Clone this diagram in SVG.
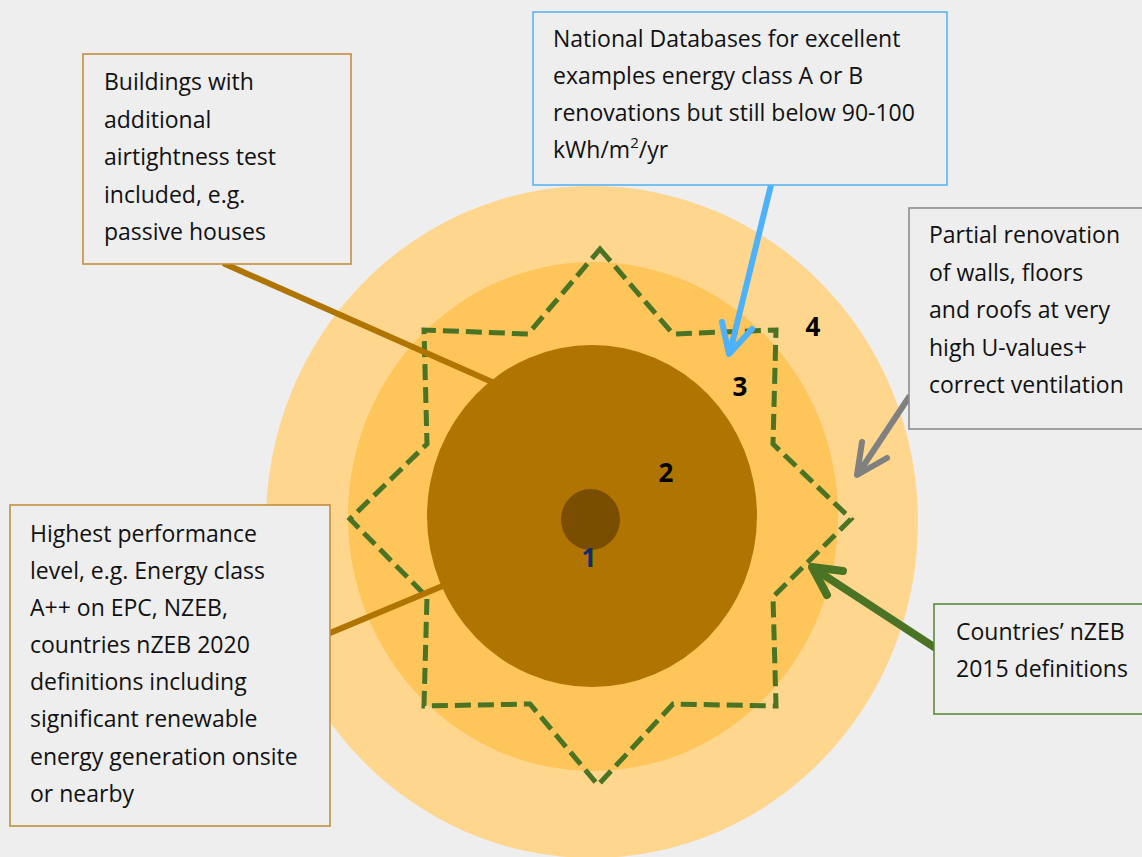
<svg xmlns="http://www.w3.org/2000/svg" width="1142" height="857" viewBox="0 0 1142 857">
<style>
.t{font-family:"Open Sans","Noto Sans","Liberation Sans",sans-serif;font-size:23px;fill:#111111}
.n{font-family:"Open Sans","Noto Sans","Liberation Sans",sans-serif;font-size:26px;font-weight:bold;fill:#000000;text-anchor:middle}
.box{fill:#eeeeee;stroke-width:1.6}
.lead{fill:none;stroke-linecap:round;stroke-linejoin:round}
</style>
<rect x="0" y="0" width="1142" height="857" fill="#eeeeee"/>
<g id="rings">
<ellipse cx="592" cy="522" rx="326" ry="336" fill="#fed68e"/>
<ellipse cx="593" cy="516.5" rx="245" ry="254.5" fill="#fdc55a"/>
<ellipse cx="592" cy="516" rx="165" ry="171" fill="#b07400"/>
<ellipse cx="590.5" cy="519.5" rx="29.5" ry="30.5" fill="#7a4e00"/>
</g>
<g id="star">
<polygon points="600,249 673,334 776,330 773,444 851,519 773,597 776,706 673,704 598,785 530,704 424,706 427,597 350,519 427,444 424,330 528,334" fill="none" stroke="#4a7324" stroke-width="5" stroke-dasharray="16,7"/>
</g>
<g id="labels">
<text class="n" x="589" y="567" style="fill:#0d2d6e">1</text>
<text class="n" x="666" y="482">2</text>
<text class="n" x="740" y="396">3</text>
<text class="n" x="813" y="336">4</text>
</g>
<g id="connectors">
<line class="lead" x1="225" y1="264" x2="492" y2="382" stroke="#b07400" stroke-width="6" stroke-linecap="butt"/>
<line class="lead" x1="330" y1="633" x2="445" y2="585" stroke="#b07400" stroke-width="6" stroke-linecap="butt"/>
<line class="lead" x1="771" y1="185" x2="730" y2="352" stroke="#4db2fb" stroke-width="6" stroke-linecap="butt"/>
<polyline class="lead" points="722,322 729,354 752,329" stroke="#4db2fb" stroke-width="6"/>
<line class="lead" x1="909" y1="397" x2="858" y2="474" stroke="#808080" stroke-width="6" stroke-linecap="butt"/>
<polyline class="lead" points="862,442 857,475 887,458" stroke="#808080" stroke-width="6"/>
<line class="lead" x1="934" y1="647" x2="813" y2="568" stroke="#4a7324" stroke-width="8" stroke-linecap="butt"/>
<polyline class="lead" points="843,571 812,567 827,595" stroke="#4a7324" stroke-width="8"/>
</g>
<g id="box-airtightness">
<rect class="box" x="83" y="54" width="268" height="210" stroke="#c38f3c"/>
<text class="t" x="104" y="90">Buildings with</text>
<text class="t" x="104" y="127.5">additional</text>
<text class="t" x="104" y="165">airtightness test</text>
<text class="t" x="104" y="202.5">included, e.g.</text>
<text class="t" x="104" y="240">passive houses</text>
</g>
<g id="box-databases">
<rect class="box" x="533" y="12" width="414" height="173" stroke="#5ab4f2"/>
<text class="t" x="553" y="47">National Databases for excellent</text>
<text class="t" x="553" y="84">examples energy class A or B</text>
<text class="t" x="553" y="121">renovations but still below 90-100</text>
<text class="t" x="553" y="158">kWh/m<tspan dy="-10" font-size="15">2</tspan><tspan dy="10">/yr</tspan></text>
</g>
<g id="box-partial">
<rect class="box" x="909" y="208" width="245" height="221" stroke="#8c8c8c"/>
<text class="t" x="929" y="243">Partial renovation</text>
<text class="t" x="929" y="281">of walls, floors</text>
<text class="t" x="929" y="318">and roofs at very</text>
<text class="t" x="929" y="356">high U-values+</text>
<text class="t" x="929" y="393">correct ventilation</text>
</g>
<g id="box-nzeb2015">
<rect class="box" x="934" y="604" width="220" height="110" stroke="#5b8a3c"/>
<text class="t" x="956" y="640">Countries’ nZEB</text>
<text class="t" x="956" y="677">2015 definitions</text>
</g>
<g id="box-highest">
<rect class="box" x="10" y="505" width="320" height="321" stroke="#c38f3c"/>
<text class="t" x="30" y="542">Highest performance</text>
<text class="t" x="30" y="579">level, e.g. Energy class</text>
<text class="t" x="30" y="616">A++ on EPC, NZEB,</text>
<text class="t" x="30" y="653">countries nZEB 2020</text>
<text class="t" x="30" y="690">definitions including</text>
<text class="t" x="30" y="727">significant renewable</text>
<text class="t" x="30" y="765">energy generation onsite</text>
<text class="t" x="30" y="802">or nearby</text>
</g>
</svg>
